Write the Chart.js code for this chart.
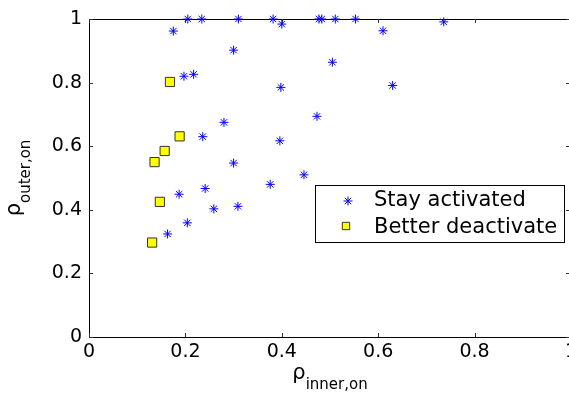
<!DOCTYPE html>
<html><head><meta charset="utf-8">
<script src="https://cdn.jsdelivr.net/npm/chart.js@4/dist/chart.umd.min.js"></script>
<style>
html,body{margin:0;padding:0;background:#fff;overflow:hidden;width:569px;height:393px}
#wrap{width:572px;height:393px}
canvas{display:block}
</style></head>
<body><div id="wrap"><canvas id="c" width="572" height="393"></canvas></div>
<script>
// ---- data ----
const stayX = [0.205,0.234,0.310,0.382,0.400,0.477,0.483,0.511,0.553,0.610,0.736,
               0.175,0.300,0.505,0.197,0.217,0.398,0.630,0.280,0.473,0.236,0.396,
               0.300,0.446,0.376,0.187,0.241,0.259,0.309,0.204,0.163];
const stayY = [1.000,1.000,1.000,1.000,0.984,1.000,1.000,1.000,1.000,0.963,0.991,
               0.962,0.902,0.864,0.820,0.826,0.785,0.791,0.675,0.694,0.630,0.617,
               0.547,0.510,0.480,0.449,0.467,0.403,0.411,0.359,0.324];
const deactX = [0.168,0.188,0.157,0.136,0.147,0.131];
const deactY = [0.802,0.631,0.585,0.550,0.425,0.297];
const seriesNames = ['Stay activated','Better deactivate'];
const tickValues = [0,0.2,0.4,0.6,0.8,1];
const xTickLabels = ['0','0.2','0.4','0.6','0.8','1'];
const yTickLabels = ['0','0.2','0.4','0.6','0.8','1'];
const xTitle = {main:'ρ', sub:'inner,on'};
const yTitle = {main:'ρ', sub:'outer,on'};

const FONT = '"DejaVu Sans", "Liberation Sans", sans-serif';
const starStyle = {pointStyle:'star', radius:4.5, borderWidth:1, color:'#0000ff'};
const squareStyle = {pointStyle:'rect', radius:6.5, borderWidth:1, fill:'#ffff00', edge:'#333333'};

const toPts = (xs, ys) => xs.map((v,i)=>({x:v, y:ys[i]}));

const framePlugin = {
  id:'frame',
  beforeDatasetsDraw(chart){
    const {ctx, chartArea:a, scales:{x,y}} = chart;
    ctx.save();
    ctx.strokeStyle = '#000'; ctx.lineWidth = 1;
    ctx.strokeRect(Math.round(a.left)+0.5, Math.round(a.top)+0.5,
                   Math.round(a.right-a.left)-1, Math.round(a.bottom-a.top));
    ctx.strokeStyle = '#333';
    ctx.beginPath();
    tickValues.forEach(v=>{
      const px = Math.round(x.getPixelForValue(v))+0.5;
      ctx.moveTo(px, a.bottom); ctx.lineTo(px, a.bottom-4);
      ctx.moveTo(px, a.top); ctx.lineTo(px, a.top+4);
      const py = Math.round(y.getPixelForValue(v))+0.5;
      ctx.moveTo(a.left, py); ctx.lineTo(a.left+4, py);
      ctx.moveTo(a.right-1, py); ctx.lineTo(a.right-5, py);
    });
    ctx.stroke();
    ctx.restore();
  },
  afterDraw(chart){
    const {ctx, chartArea:a} = chart;
    ctx.save();
    // legend
    const lx = 315, ly = 185, lw = 249, lh = 57;
    ctx.fillStyle = '#fff';
    ctx.fillRect(lx, ly, lw, lh);
    ctx.strokeStyle = '#000'; ctx.lineWidth = 1;
    ctx.strokeRect(lx+0.5, ly+0.5, lw, lh);
    ctx.strokeStyle = starStyle.color; ctx.lineWidth = starStyle.borderWidth;
    Chart.helpers.drawPoint(ctx, {pointStyle:starStyle.pointStyle, radius:starStyle.radius, borderWidth:1, rotation:0}, 348, 201);
    ctx.fillStyle = squareStyle.fill; ctx.strokeStyle = squareStyle.edge;
    Chart.helpers.drawPoint(ctx, {pointStyle:'rect', radius:5.2, borderWidth:1, rotation:0}, 346, 226);
    ctx.fillStyle = '#000';
    ctx.font = '21px ' + FONT;
    ctx.textBaseline = 'alphabetic';
    ctx.textAlign = 'left';
    ctx.fillText(seriesNames[0], 374, 206);
    ctx.fillText(seriesNames[1], 374, 233);

    // axis titles
    const drawTitle = (t, cx, base) => {
      ctx.font = '21px ' + FONT;
      const w1 = ctx.measureText(t.main).width;
      ctx.font = '15px ' + FONT;
      const w2 = ctx.measureText(t.sub).width;
      const x0 = cx - (w1 + w2)/2;
      ctx.font = '21px ' + FONT;
      ctx.fillText(t.main, x0, base);
      ctx.font = '15px ' + FONT;
      ctx.fillText(t.sub, x0 + w1, base + 10);
    };
    drawTitle(xTitle, 330, 379);
    const cyY = (a.top + a.bottom)/2;
    ctx.translate(20, cyY);
    ctx.rotate(-Math.PI/2);
    drawTitle(yTitle, 0, 0);
    ctx.restore();
  }
};

new Chart(document.getElementById('c'), {
  type:'scatter',
  data:{
    datasets:[
      {label:seriesNames[0], data:toPts(stayX, stayY), pointStyle:starStyle.pointStyle,
       pointRadius:starStyle.radius, pointBorderWidth:starStyle.borderWidth,
       borderColor:starStyle.color, backgroundColor:starStyle.color, clip:false},
      {label:seriesNames[1], data:toPts(deactX, deactY), pointStyle:squareStyle.pointStyle,
       pointRadius:squareStyle.radius, pointBorderWidth:squareStyle.borderWidth,
       borderColor:squareStyle.edge, backgroundColor:squareStyle.fill, clip:false}
    ]
  },
  options:{
    responsive:false, animation:false, events:[],
    layout:{padding:{top:19,left:0,right:1,bottom:0}, autoPadding:false},
    plugins:{legend:{display:false}, tooltip:{enabled:false}},
    scales:{
      x:{type:'linear', min:0, max:1,
         afterBuildTicks:s=>{s.ticks = tickValues.map(v=>({value:v}));},
         afterFit:s=>{s.height = 56; s.paddingLeft = 0; s.paddingRight = 0;},
         grid:{display:false, drawTicks:false}, border:{display:false},
         ticks:{autoSkip:false, maxRotation:0, padding:4, color:'#000',
                font:{family:FONT, size:19},
                callback:(v,i)=>xTickLabels[i]}},
      y:{type:'linear', min:0, max:1,
         afterBuildTicks:s=>{s.ticks = tickValues.map(v=>({value:v}));},
         afterFit:s=>{s.width = 89; s.paddingTop = 0; s.paddingBottom = 0;},
         grid:{display:false, drawTicks:false}, border:{display:false},
         ticks:{autoSkip:false, padding:7, color:'#000',
                font:{family:FONT, size:19},
                callback:(v,i)=>yTickLabels[i]}}
    }
  },
  plugins:[framePlugin]
});
</script>
</body></html>
